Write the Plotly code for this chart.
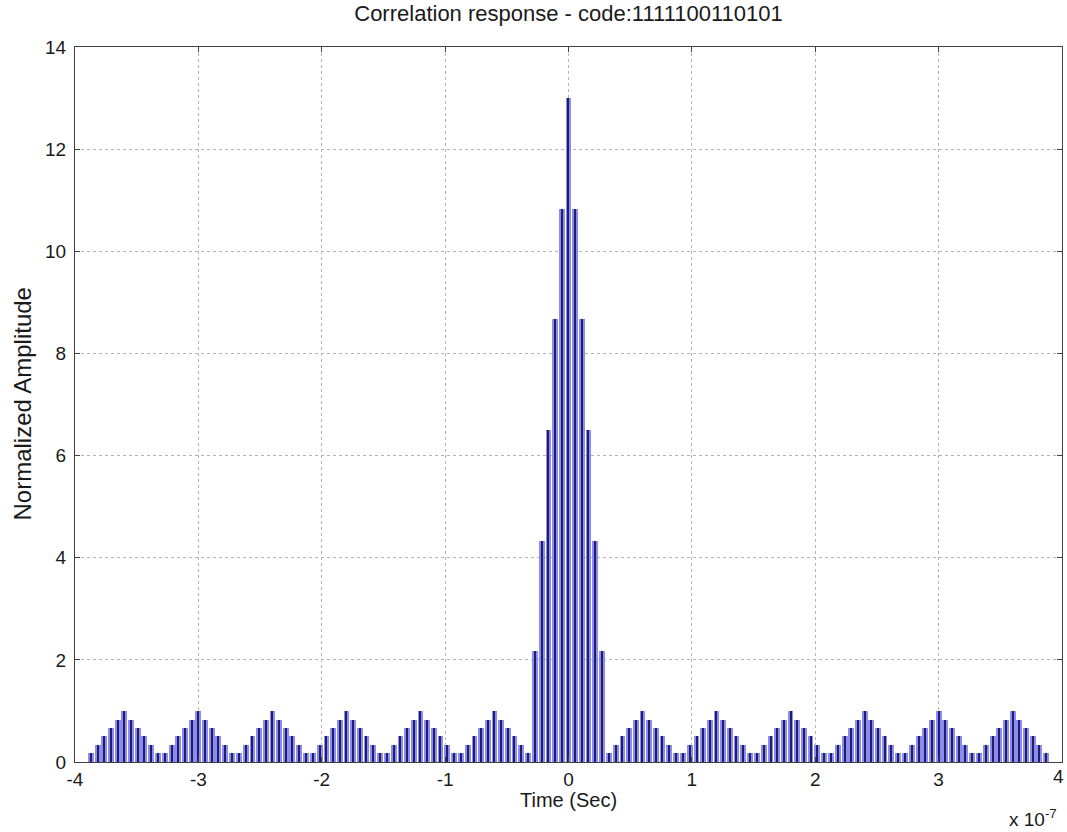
import plotly.graph_objects as go

# Barker-13 correlation response, time axis in units of 1e-7 s
code = "1111100110101"

# offsets of the sampled peaks inside one lobe (x 1e-7 s)
spike_offsets = [-0.27, -0.216, -0.162, -0.108, -0.054, 0.0,
                 0.054, 0.108, 0.162, 0.216, 0.27]
# peak amplitudes of the main lobe
main_heights = [2.17, 4.33, 6.5, 8.67, 10.83, 13.0,
                10.83, 8.67, 6.5, 4.33, 2.17]
# peak amplitudes of each range sidelobe
side_heights = [0.17, 0.33, 0.5, 0.67, 0.83, 1.0,
                0.83, 0.67, 0.5, 0.33, 0.17]
# centres of the sidelobes (x 1e-7 s)
side_centers = [-3.6, -3.0, -2.4, -1.8, -1.2, -0.6,
                0.6, 1.2, 1.8, 2.4, 3.0, 3.6]

x_ticks = [-4, -3, -2, -1, 0, 1, 2, 3, 4]
y_ticks = [0, 2, 4, 6, 8, 10, 12, 14]

xs = list(spike_offsets)
hs = list(main_heights)
for c in side_centers:
    xs += [c + o for o in spike_offsets]
    hs += list(side_heights)

FILL = "rgb(140,140,240)"
STEM = "rgb(30,30,105)"
FONT = "Liberation Sans, Arial, Helvetica, sans-serif"
INK = "#1a1a1a"

fig = go.Figure()
fig.add_trace(go.Bar(x=xs, y=hs, width=0.047, marker=dict(color=FILL, line=dict(width=0)),
                     showlegend=False, hoverinfo="skip"))
fig.add_trace(go.Bar(x=xs, y=hs, width=0.009, marker=dict(color=STEM, line=dict(width=0)),
                     showlegend=False))

axis_common = dict(
    showgrid=True, gridcolor="#b4b4b4", griddash="dot", gridwidth=1,
    showline=True, linecolor="#404040", linewidth=1, mirror="ticks",
    ticks="inside", ticklen=5, tickcolor="#404040",
    zeroline=False,
    tickfont=dict(family=FONT, size=19, color=INK),
)

fig.update_layout(
    width=1067, height=832,
    margin=dict(l=75, r=5, t=47, b=70),
    paper_bgcolor="white", plot_bgcolor="white",
    barmode="overlay", bargap=0,
    font=dict(family=FONT, color=INK),
    title=dict(text="Correlation response - code:" + code,
               x=0.5, xref="paper", xanchor="center",
               y=1 - 13 / 832, yref="container", yanchor="middle",
               font=dict(family=FONT, size=22, color=INK)),
    xaxis=dict(range=[-4, 4], tickvals=x_ticks[:-1], ticktext=[str(t) for t in x_ticks[:-1]],
               ticklabelstandoff=0, **axis_common),
    yaxis=dict(range=[0, 14], tickvals=y_ticks, ticklabelstandoff=4, **axis_common),
    annotations=[
        # right-most x tick label, kept inside the page edge
        dict(text=str(x_ticks[-1]), x=1.0, xref="paper", y=-14 / 715, yref="paper",
             xanchor="center", xshift=-4, yanchor="middle", showarrow=False,
             font=dict(family=FONT, size=19, color=INK)),
        dict(text="Time (Sec)", x=0.5, xref="paper", y=-38 / 715, yref="paper",
             xanchor="center", yanchor="middle", showarrow=False,
             font=dict(family=FONT, size=20, color=INK)),
        dict(text="Normalized Amplitude", x=-53 / 987, xref="paper", y=0.5, yref="paper",
             xanchor="center", yanchor="middle", textangle=-90, showarrow=False,
             font=dict(family=FONT, size=24, color=INK)),
        dict(text="x 10<sup>-7</sup>", x=1.0, xref="paper", y=-56 / 715, yref="paper",
             xanchor="right", xshift=-3, yanchor="middle", showarrow=False,
             font=dict(family=FONT, size=19, color=INK)),
    ],
)

fig.write_html("out.html")
